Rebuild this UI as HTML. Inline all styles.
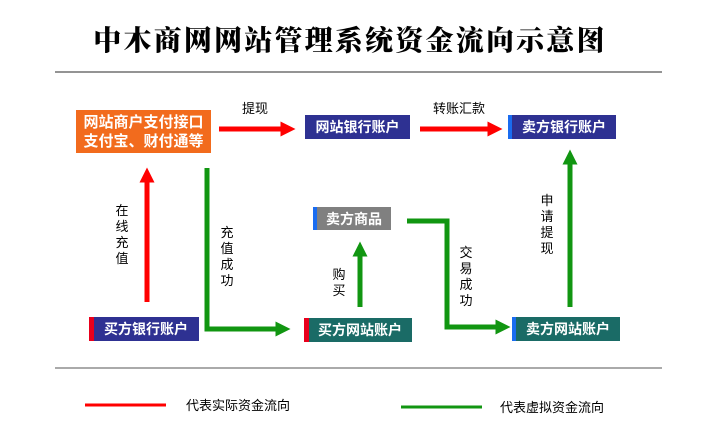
<!DOCTYPE html>
<html><head><meta charset="utf-8"><style>
body{margin:0;background:#fff;}
svg text{font-family:"Liberation Sans","Noto Sans CJK SC",sans-serif;}
.b{font-weight:bold;font-size:14px;fill:#fff;}
.l{font-size:13px;fill:#000;}
</style></head><body>
<svg width="710" height="435" viewBox="0 0 710 435" xmlns="http://www.w3.org/2000/svg">
<defs>
<marker id="rh" markerWidth="3" markerHeight="3" refX="0.5" refY="1.5" orient="auto" markerUnits="strokeWidth"><path d="M0,0 L3,1.5 L0,3 z" fill="#f00"/></marker>
<marker id="gh" markerWidth="3" markerHeight="3" refX="0.5" refY="1.5" orient="auto" markerUnits="strokeWidth"><path d="M0,0 L3,1.5 L0,3 z" fill="#119611"/></marker>
</defs>
<text x="350" y="50" text-anchor="middle" style="font-family:'Noto Serif CJK SC','Noto Sans CJK SC',serif;font-weight:900;font-size:28px;letter-spacing:2.2px">中木商网网站管理系统资金流向示意图</text>
<line x1="55" y1="72" x2="662" y2="72" stroke="#555" stroke-width="1.2"/>
<line x1="55" y1="368" x2="662" y2="368" stroke="#777" stroke-width="1.2"/>

<rect x="76" y="110" width="135" height="43" fill="#f26b1d"/>
<text class="b" x="143.5" y="127" text-anchor="middle" style="font-size:15px">网站商户支付接口</text>
<text class="b" x="143.5" y="146" text-anchor="middle" style="font-size:15px">支付宝、财付通等</text>

<rect x="305" y="115" width="105" height="24" fill="#2e3192"/>
<text class="b" x="357.5" y="132" text-anchor="middle">网站银行账户</text>

<rect x="508" y="115" width="108" height="24" fill="#2e3192"/>
<rect x="508" y="115" width="4" height="24" fill="#1a6cf0"/>
<text class="b" x="564" y="132" text-anchor="middle">卖方银行账户</text>

<rect x="313" y="207" width="78" height="23" fill="#808080"/>
<rect x="313" y="207" width="4" height="23" fill="#1a6cf0"/>
<text class="b" x="354" y="224" text-anchor="middle">卖方商品</text>

<rect x="89" y="317" width="110" height="24" fill="#2e3192"/>
<rect x="89" y="317" width="5" height="24" fill="#e8001c"/>
<text class="b" x="146" y="334" text-anchor="middle">买方银行账户</text>

<rect x="304" y="318" width="108" height="24" fill="#1a6b66"/>
<rect x="304" y="318" width="5" height="24" fill="#e8001c"/>
<text class="b" x="360" y="335" text-anchor="middle">买方网站账户</text>

<rect x="512" y="317" width="108" height="24" fill="#1a6b66"/>
<rect x="512" y="317" width="4" height="24" fill="#1a6cf0"/>
<text class="b" x="568" y="334" text-anchor="middle">卖方网站账户</text>

<g stroke-width="5" fill="none">
<line x1="219" y1="129" x2="283" y2="129" stroke="#f00" marker-end="url(#rh)"/>
<line x1="420" y1="129" x2="490" y2="129" stroke="#f00" marker-end="url(#rh)"/>
<line x1="147" y1="302" x2="147" y2="180" stroke="#f00" marker-end="url(#rh)"/>
<polyline points="207,168 207,329 278,329" stroke="#119611" marker-end="url(#gh)"/>
<line x1="360" y1="307" x2="360" y2="254" stroke="#119611" marker-end="url(#gh)"/>
<polyline points="407,221 447,221 447,327 498,327" stroke="#119611" marker-end="url(#gh)"/>
<line x1="570" y1="307" x2="570" y2="162" stroke="#119611" marker-end="url(#gh)"/>
</g>

<text class="l" x="255" y="113" text-anchor="middle">提现</text>
<text class="l" x="459" y="113" text-anchor="middle">转账汇款</text>
<g text-anchor="middle">
<text x="122" y="215" class="l">在</text><text x="122" y="231" class="l">线</text><text x="122" y="247" class="l">充</text><text x="122" y="263" class="l">值</text>
<text x="227" y="237" class="l">充</text><text x="227" y="253" class="l">值</text><text x="227" y="269" class="l">成</text><text x="227" y="285" class="l">功</text>
<text x="339" y="279" class="l">购</text><text x="339" y="295" class="l">买</text>
<text x="466" y="257" class="l">交</text><text x="466" y="273" class="l">易</text><text x="466" y="289" class="l">成</text><text x="466" y="305" class="l">功</text>
<text x="547" y="205" class="l">申</text><text x="547" y="221" class="l">请</text><text x="547" y="237" class="l">提</text><text x="547" y="253" class="l">现</text>
</g>

<line x1="85" y1="405" x2="166" y2="405" stroke="#f00" stroke-width="3"/>
<text class="l" x="186" y="410">代表实际资金流向</text>
<line x1="401" y1="407" x2="482" y2="407" stroke="#119611" stroke-width="3"/>
<text class="l" x="500" y="412">代表虚拟资金流向</text>
</svg>
</body></html>
